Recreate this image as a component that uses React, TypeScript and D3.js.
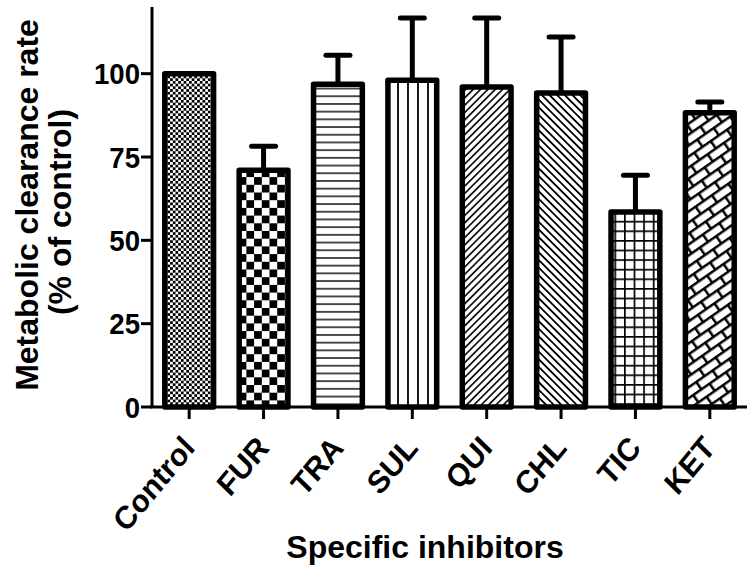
import React from "react";
import * as d3 from "d3";

// Metabolic clearance with specific CYP inhibitors (% of control), mean + SEM
const CATEGORIES = ["Control", "FUR", "TRA", "SUL", "QUI", "CHL", "TIC", "KET"];
const MEANS = [100, 71, 96.8, 98, 96, 94.2, 58.5, 88.3];
const SEMS = [0, 7.2, 8.7, 18.7, 20.7, 16.8, 11, 3.2];
const Y_TICKS = [0, 25, 50, 75, 100];
const FILLS = ["checkFine", "checkCoarse", "hlines", "vlines", "diagUp", "diagDown", "grid", "brick"];

const W = 756;
const H = 577;
const FONT = "'Liberation Sans', Arial, Helvetica, sans-serif";

export default function App() {
  const x = d3.scaleBand<string>()
    .domain(CATEGORIES)
    .range([152, 747])
    .paddingInner(0.27)
    .paddingOuter(0.135);

  const y = d3.scaleLinear().domain([0, 120]).range([407, 7]);

  const bw = x.bandwidth();
  const capHalf = 12;

  return (
    <svg width={W} height={H} viewBox={`0 0 ${W} ${H}`}
      style={{ position: "absolute", left: 0, top: 0, background: "#fff" }}
      fontFamily={FONT} fontWeight="bold">
      <defs>
        <pattern id="checkFine" patternUnits="userSpaceOnUse" width={5.4} height={5.4}>
          <rect width={5.4} height={5.4} fill="#fff" />
          <rect width={2.7} height={2.7} fill="#000" />
          <rect x={2.7} y={2.7} width={2.7} height={2.7} fill="#000" />
        </pattern>
        <pattern id="checkCoarse" patternUnits="userSpaceOnUse" width={15.4} height={15.4}>
          <rect width={15.4} height={15.4} fill="#fff" />
          <rect width={7.7} height={7.7} fill="#000" />
          <rect x={7.7} y={7.7} width={7.7} height={7.7} fill="#000" />
        </pattern>
        <pattern id="hlines" patternUnits="userSpaceOnUse" width={8} height={7.7}>
          <rect width={8} height={7.7} fill="#fff" />
          <line x1={0} x2={8} y1={3.85} y2={3.85} stroke="#000" strokeWidth={1.4} />
        </pattern>
        <pattern id="vlines" patternUnits="userSpaceOnUse" width={10} height={10}>
          <rect width={10} height={10} fill="#fff" />
          <line x1={8} x2={8} y1={0} y2={10} stroke="#000" strokeWidth={1.8} />
        </pattern>
        <pattern id="diagUp" patternUnits="userSpaceOnUse" width={5.2} height={5.2} patternTransform="rotate(-45)">
          <rect width={5.2} height={5.2} fill="#fff" />
          <line x1={0} x2={5.2} y1={2.6} y2={2.6} stroke="#000" strokeWidth={1.6} />
        </pattern>
        <pattern id="diagDown" patternUnits="userSpaceOnUse" width={5.4} height={5.4} patternTransform="rotate(45)">
          <rect width={5.4} height={5.4} fill="#fff" />
          <line x1={0} x2={5.4} y1={2.7} y2={2.7} stroke="#000" strokeWidth={1.8} />
        </pattern>
        <pattern id="grid" patternUnits="userSpaceOnUse" width={9.6} height={9.6}>
          <rect width={9.6} height={9.6} fill="#fff" />
          <line x1={0} x2={9.6} y1={0} y2={0} stroke="#000" strokeWidth={3.4} />
          <line x1={0} x2={0} y1={0} y2={9.6} stroke="#000" strokeWidth={3.4} />
        </pattern>
        <pattern id="brick" patternUnits="userSpaceOnUse" width={20} height={18} patternTransform="rotate(-35)">
          <rect width={20} height={18} fill="#fff" />
          <line x1={0} x2={20} y1={1.25} y2={1.25} stroke="#000" strokeWidth={2.5} />
          <line x1={0} x2={20} y1={10.25} y2={10.25} stroke="#000" strokeWidth={2.5} />
          <line x1={1.25} x2={1.25} y1={0} y2={10} stroke="#000" strokeWidth={2.5} />
          <line x1={11.25} x2={11.25} y1={10} y2={18} stroke="#000" strokeWidth={2.5} />
        </pattern>
      </defs>

      {/* Error bars (upper only) */}
      {CATEGORIES.map((c, i) => {
        if (!SEMS[i]) return null;
        const cx = (x(c) ?? 0) + bw / 2;
        const top = y(MEANS[i] + SEMS[i]);
        return (
          <g key={`err-${c}`} stroke="#000" strokeWidth={5} strokeLinecap="round">
            <line x1={cx} x2={cx} y1={y(MEANS[i])} y2={top} strokeLinecap="butt" />
            <line x1={cx - capHalf} x2={cx + capHalf} y1={top} y2={top} />
          </g>
        );
      })}

      {/* Bars */}
      {CATEGORIES.map((c, i) => (
        <rect key={`bar-${c}`}
          x={(x(c) ?? 0) + 2.75}
          y={y(MEANS[i])}
          width={bw - 5.5}
          height={y(0) - y(MEANS[i])}
          fill={`url(#${FILLS[i]})`}
          stroke="#000" strokeWidth={5.5} strokeLinejoin="round" />
      ))}

      {/* Y axis */}
      <line x1={152} x2={152} y1={y(120)} y2={y(0)} stroke="#000" strokeWidth={3} />
      {Y_TICKS.map(t => (
        <g key={`yt-${t}`}>
          <line x1={141} x2={152} y1={y(t)} y2={y(t)} stroke="#000" strokeWidth={3} />
          <text transform={`translate(140,${y(t)}) scale(0.92,1)`} dy="0.36em"
            textAnchor="end" fontSize={30}>{t}</text>
        </g>
      ))}

      {/* X axis */}
      <line x1={150.5} x2={747} y1={y(0)} y2={y(0)} stroke="#000" strokeWidth={3} />
      {CATEGORIES.map(c => {
        const cx = (x(c) ?? 0) + bw / 2;
        return (
          <g key={`xt-${c}`}>
            <line x1={cx} x2={cx} y1={y(0)} y2={y(0) + 12} stroke="#000" strokeWidth={3} />
            <text transform={`translate(${cx + 7},${y(0) + 42}) scale(0.92,1) rotate(-48)`}
              textAnchor="end" fontSize={32}>{c}</text>
          </g>
        );
      })}

      {/* Axis titles */}
      <text transform="translate(38,205) rotate(-90)" textAnchor="middle" fontSize={32}>
        Metabolic clearance rate
      </text>
      <text transform="translate(71,212) rotate(-90)" textAnchor="middle" fontSize={32}>
        (% of control)
      </text>
      <text x={425} y={558} textAnchor="middle" fontSize={32}>Specific inhibitors</text>
    </svg>
  );
}
